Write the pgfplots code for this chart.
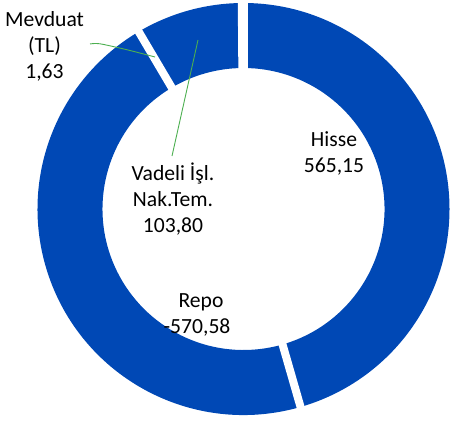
\documentclass[border=0pt]{standalone}
\usepackage{pgfplots}
\pgfplotsset{compat=1.18}
\usepackage{pgfplotstable}
\usepackage{fontspec}
\setmainfont{Carlito}
\definecolor{ringblue}{RGB}{0,72,181}
\definecolor{leadgreen}{RGB}{76,175,80}

\pgfplotstableread{
label value
Hisse 565.15
Repo -570.58
Vadeli 103.80
Mevduat 1.63
}\piedata
\pgfplotstablegetelem{0}{value}\of\piedata \let\vA\pgfplotsretval
\pgfplotstablegetelem{1}{value}\of\piedata \let\vB\pgfplotsretval
\pgfplotstablegetelem{2}{value}\of\piedata \let\vC\pgfplotsretval
\pgfplotstablegetelem{3}{value}\of\piedata \let\vD\pgfplotsretval
\pgfmathsetmacro\tot{abs(\vA)+abs(\vB)+abs(\vC)+abs(\vD)}
\pgfmathsetmacro\aA{90}
\pgfmathsetmacro\aB{\aA-360*(abs(\vA)/\tot)}
\pgfmathsetmacro\aC{\aB-360*(abs(\vB)/\tot)}
\pgfmathsetmacro\aD{\aC-360*(abs(\vC)/\tot)}
\pgfmathsetmacro\aE{\aD-360*(abs(\vD)/\tot)}

\def\cx{243.5}\def\cy{212}\def\Ro{206}\def\Ri{141}
\newcommand\seg[2]{\fill[ringblue] (axis cs:{\cx+\Ro*cos(#1)},{\cy+\Ro*sin(#1)}) arc[start angle=#1,end angle=#2,radius=\Ro] -- (axis cs:{\cx+\Ri*cos(#2)},{\cy+\Ri*sin(#2)}) arc[start angle=#2,end angle=#1,radius=\Ri] -- cycle;}
\newcommand\gap[1]{\draw[white,line width=8bp] (axis cs:{\cx+(\Ri-3)*cos(#1)},{\cy+(\Ri-3)*sin(#1)}) -- (axis cs:{\cx+(\Ro+2)*cos(#1)},{\cy+(\Ro+2)*sin(#1)});}
\newcommand\lab[3]{\node[anchor=base,inner sep=0pt,text=black,font=\fontsize{21.7}{26}\selectfont] at (axis cs:#1,#2) {#3};}

\begin{document}
\begin{tikzpicture}
\begin{axis}[x=1bp,y=1bp,xmin=0,xmax=450,ymin=0,ymax=421,hide axis,disabledatascaling,clip=true]
\path (axis cs:0,0) rectangle (axis cs:450,421);
\seg{\aA}{\aB}
\seg{\aB}{\aC}
\seg{\aC}{\aD}
\seg{\aD}{\aE}
\gap{\aA}
\gap{\aB}
\gap{\aC}
\gap{\aD}
\addplot[leadgreen,line width=0.9bp,smooth] coordinates {(90,377) (100,377.2) (128,371) (155,364)};
\addplot[leadgreen,line width=0.9bp] coordinates {(198,381) (172,265)};
\lab{44.5}{394}{Mevduat}
\lab{44.5}{368.5}{(TL)}
\lab{44.5}{343}{1,63}
\lab{334}{275}{Hisse}
\lab{334}{249}{565,15}
\lab{173}{241}{Vadeli İşl.}
\lab{173}{215}{Nak.Tem.}
\lab{173}{189}{103,80}
\lab{201}{114}{Repo}
\lab{197}{88}{-570,58}
\end{axis}
\end{tikzpicture}
\end{document}
